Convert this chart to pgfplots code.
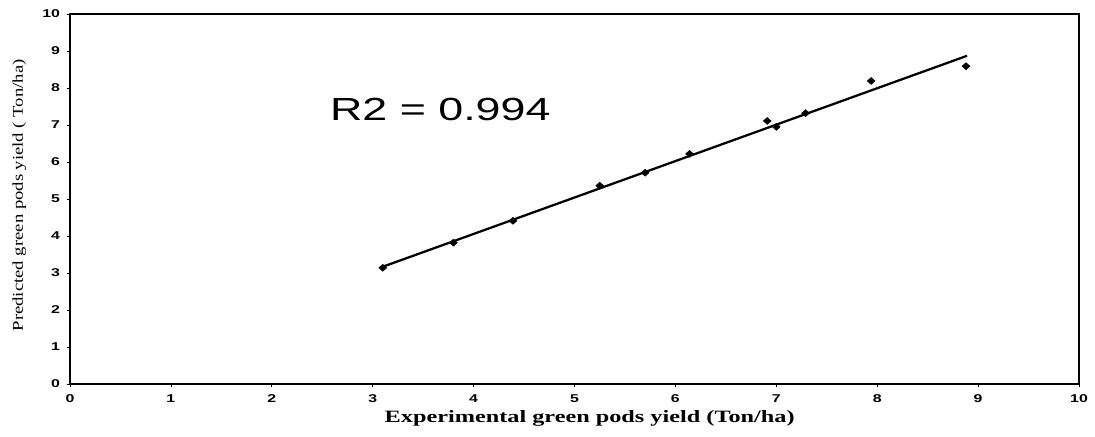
\documentclass[border=0pt]{standalone}
\usepackage{fontspec}
\setmainfont{Liberation Serif}
\newfontfamily\arialf{Liberation Sans}
\usepackage{pgfplots}
\pgfplotsset{compat=1.18}
\newcommand\sx[1]{\scalebox{1.4}[1]{#1}}
\begin{document}
\begin{tikzpicture}
\begin{axis}[
 scale only axis, width=756.75pt, height=277.5pt,
 xmin=0,xmax=10,ymin=0,ymax=10,
 xtick={0,...,10}, ytick={0,...,10},
 xticklabels={\sx{0},\sx{1},\sx{2},\sx{3},\sx{4},\sx{5},\sx{6},\sx{7},\sx{8},\sx{9},\sx{10}},
 yticklabels={\sx{0},\sx{1},\sx{2},\sx{3},\sx{4},\sx{5},\sx{6},\sx{7},\sx{8},\sx{9},\sx{10}},
 ticklabel style={font=\arialf\bfseries\fontsize{8.5}{9}\selectfont},
 xticklabel style={yshift=-2pt},
 yticklabel style={xshift=-1.5pt},
 tick align=outside, major tick length=2.5pt,
 xtick pos=left, ytick pos=left,
 axis line style={line width=0.8pt}, tick style={line width=0.6pt, black},
 clip=false,
]
\addplot[only marks, mark=diamond*, mark size=2.6pt, mark options={xscale=1.5}] table {
x y
3.10 3.14
3.80 3.82
4.39 4.41
5.25 5.36
5.70 5.71
6.14 6.22
6.91 7.11
7.00 6.95
7.29 7.32
7.94 8.19
8.88 8.59
};
\addplot[line width=1.7pt] coordinates {(3.07,3.14)(8.89,8.87)};
\node at (axis cs:3.67,7.43) {\sx{\arialf\fontsize{24}{28}\selectfont R2 = 0.994}};
\node[rotate=90] at ([xshift=-38pt]rel axis cs:0,0.51) {\scalebox{1}[0.8]{\fontsize{14}{16}\selectfont Predicted green pods yield ( Ton/ha)}};
\node at ([yshift=-26pt]rel axis cs:0.515,0) {\sx{\bfseries\fontsize{13}{15}\selectfont Experimental green pods yield (Ton/ha)}};
\coordinate (sw) at (rel axis cs:0,0);
\coordinate (ne) at (rel axis cs:1,1);
\end{axis}
\pgfresetboundingbox
\path ([shift={(-52.5pt,-39pt)}]sw) rectangle ([shift={(12pt,10.5pt)}]ne);
\end{tikzpicture}
\end{document}
